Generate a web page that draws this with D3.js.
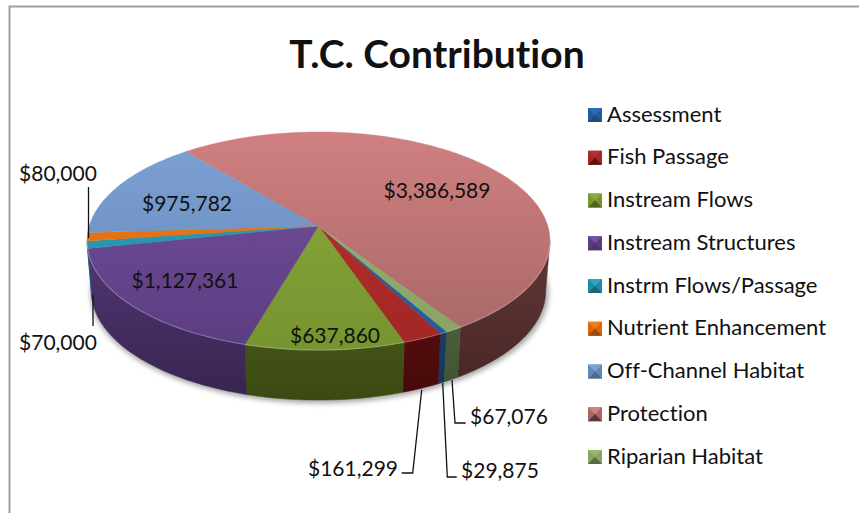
<!DOCTYPE html>
<html>
<head>
<meta charset="utf-8">
<script src="https://d3js.org/d3.v7.min.js"></script>
<style>
html, body { margin: 0; padding: 0; background: #fff; }
svg { display: block; }
text { font-family: Lato, "Open Sans", sans-serif; fill: #111; font-variant-ligatures: none; }
</style>
</head>
<body>
<div id="chart"></div>
<script>
const categories = ["Assessment", "Fish Passage", "Instream Flows", "Instream Structures", "Instrm Flows/Passage", "Nutrient Enhancement", "Off-Channel Habitat", "Protection", "Riparian Habitat"];
const amounts = [29875, 161299, 637860, 1127361, 70000, 80000, 975782, 3386589, 67076];
const topLight = ["#2f6cb5", "#b8302e", "#8cab3e", "#7552a0", "#2fa3bd", "#ef7d1c", "#7ea1d6", "#d08080", "#9ab673"];
const topDark = ["#235a9e", "#a22725", "#76942f", "#5b3c80", "#1f8aa3", "#d9660c", "#6488b5", "#a76666", "#87a361"];
const sideLight = ["#1f4a7c", "#5e1110", "#4f611d", "#4d3570", "#1c6478", "#9a4a0a", "#4c6a92", "#5e3434", "#556b42"];
const sideDark = ["#133358", "#460a0a", "#3b4a12", "#38244f", "#134a58", "#6e3505", "#344c6c", "#462626", "#3f5030"];
const title = "T.C. Contribution";

const width = 859, height = 513;
const fmt = d3.format("$,");

const svg = d3.select("#chart").append("svg").attr("width", width).attr("height", height);
const defs = svg.append("defs");

// only the top and left edges of the frame are in the picture
svg.append("path").attr("d", "M9.5,513V6.5H859")
    .attr("fill", "none").attr("stroke", "#a0a0a0").attr("stroke-width", 2);

svg.append("text").attr("x", 437).attr("y", 68).attr("text-anchor", "middle")
    .attr("font-size", 39).attr("font-weight", 700).text(title);

// pie geometry: a circle seen in perspective, k is the foreshortening
const apex = {x: 318.5, y: 226};
const topRim = {x: apex.x, y: apex.y, rx: 229.3, ry: 107};
const bottomRim = {x: apex.x, y: apex.y + 50, rx: 225, ry: 107};
const k = 0.1376;
const START = 150.5 * Math.PI / 180;

const pie = d3.pie().sort(null).startAngle(START).endAngle(START + 2 * Math.PI);
const slices = pie(amounts);

function rimPoint(rim, a) {
    const u = Math.sin(a), v = -Math.cos(a), w = 1 - k * v;
    return [rim.x + rim.rx * u / w, rim.y + rim.ry * v / w];
}
function arcPoints(rim, a0, a1) {
    const n = Math.max(2, Math.ceil(Math.abs(a1 - a0) / 0.02));
    return d3.range(n + 1).map(i => rimPoint(rim, a0 + (a1 - a0) * i / n));
}
const line = d3.line();

function gradient(id, x1, y1, x2, y2, c1, c2) {
    const g = defs.append("linearGradient").attr("id", id).attr("gradientUnits", "userSpaceOnUse")
        .attr("x1", x1).attr("y1", y1).attr("x2", x2).attr("y2", y2);
    g.append("stop").attr("offset", 0).attr("stop-color", c1);
    g.append("stop").attr("offset", 1).attr("stop-color", c2);
}

defs.append("filter").attr("id", "blur").attr("x", "-10%").attr("y", "-10%").attr("width", "120%").attr("height", "120%")
    .append("feGaussianBlur").attr("stdDeviation", 2.5);

categories.forEach((c, i) => {
    gradient("top" + i, 0, 132, 0, 350, topLight[i], topDark[i]);
    gradient("side" + i, 0, 260, 0, 400, sideLight[i], sideDark[i]);
});

// soft shadow under the disc
svg.append("path")
    .attr("d", line(arcPoints({x: apex.x + 1, y: apex.y + 52, rx: 227, ry: 108}, 0, 2 * Math.PI)) + "Z")
    .attr("fill", "#555").attr("opacity", 0.5).attr("filter", "url(#blur)");

// side wall, only the part of each slice facing us
const FRONT0 = Math.acos(-k), FRONT1 = 2 * Math.PI - FRONT0;
const sides = slices.flatMap((s, i) => {
    // the slice may wrap round past 360 degrees, try both turns
    return [0, 2 * Math.PI].map(off => {
        const a0 = Math.max(s.startAngle - off, FRONT0);
        const a1 = Math.min(s.endAngle - off, FRONT1);
        return a1 > a0 ? {i, a0, a1} : null;
    }).filter(d => d);
});
svg.append("g").selectAll("path").data(sides).join("path")
    .attr("d", d => line(arcPoints(topRim, d.a0, d.a1).concat(arcPoints(bottomRim, d.a1, d.a0))) + "Z")
    .attr("fill", d => `url(#side${d.i})`)
    .attr("stroke", d => `url(#side${d.i})`).attr("stroke-width", 0.5);

// top face
svg.append("g").selectAll("path").data(slices).join("path")
    .attr("d", s => line([[apex.x, apex.y]].concat(arcPoints(topRim, s.startAngle, s.endAngle))) + "Z")
    .attr("fill", (s, i) => `url(#top${i})`)
    .attr("stroke", (s, i) => `url(#top${i})`).attr("stroke-width", 0.4);

// light bevel along the front rim
svg.append("path")
    .attr("d", line(arcPoints(topRim, FRONT0, FRONT1)))
    .attr("fill", "none").attr("stroke", "#fff").attr("stroke-opacity", 0.25).attr("stroke-width", 1.2);

// value labels
const labelPos = [
    {x: 500, y: 471}, {x: 353, y: 469}, {x: 335, y: 336}, {x: 185, y: 281},
    {x: 58, y: 343}, {x: 58, y: 174}, {x: 187, y: 204}, {x: 437, y: 191}, {x: 509, y: 417}
];
svg.append("g").selectAll("text").data(amounts).join("text")
    .attr("x", (d, i) => labelPos[i].x).attr("y", (d, i) => labelPos[i].y)
    .attr("dy", "0.35em").attr("text-anchor", "middle").attr("font-size", 21)
    .text(d => fmt(d));

// leader lines
const leaders = [
    [[442.7, 383], [447.3, 477], [456.7, 477]],
    [[421.7, 390], [412.7, 473], [401.7, 473]],
    [[93, 295], [93, 326]],
    [[88.5, 187], [88.5, 238]],
    [[452, 380], [455, 423], [465.7, 423]]
];
svg.append("g").selectAll("path").data(leaders).join("path")
    .attr("d", d => line(d)).attr("fill", "none").attr("stroke", "#111").attr("stroke-width", 1.3);

// legend, swatches are little bevelled squares
const legendY = d3.scalePoint().domain(categories).range([115, 457]);
const key = svg.append("g").selectAll("g").data(categories).join("g")
    .attr("transform", d => `translate(588,${legendY(d)})`);
const S = 14, C = S / 2;
key.append("rect").attr("y", -C).attr("width", S).attr("height", S).attr("fill", (d, i) => topDark[i]);
key.append("path").attr("d", line([[0, -C], [S, -C], [C, 0]]) + "Z").attr("fill", (d, i) => topLight[i]);
key.append("path").attr("d", line([[0, C], [S, C], [C, 0]]) + "Z").attr("fill", (d, i) => sideLight[i]);
key.append("text").attr("x", 19).attr("y", -1).attr("dy", "0.35em").attr("font-size", 22).text(d => d);
</script>
</body>
</html>
